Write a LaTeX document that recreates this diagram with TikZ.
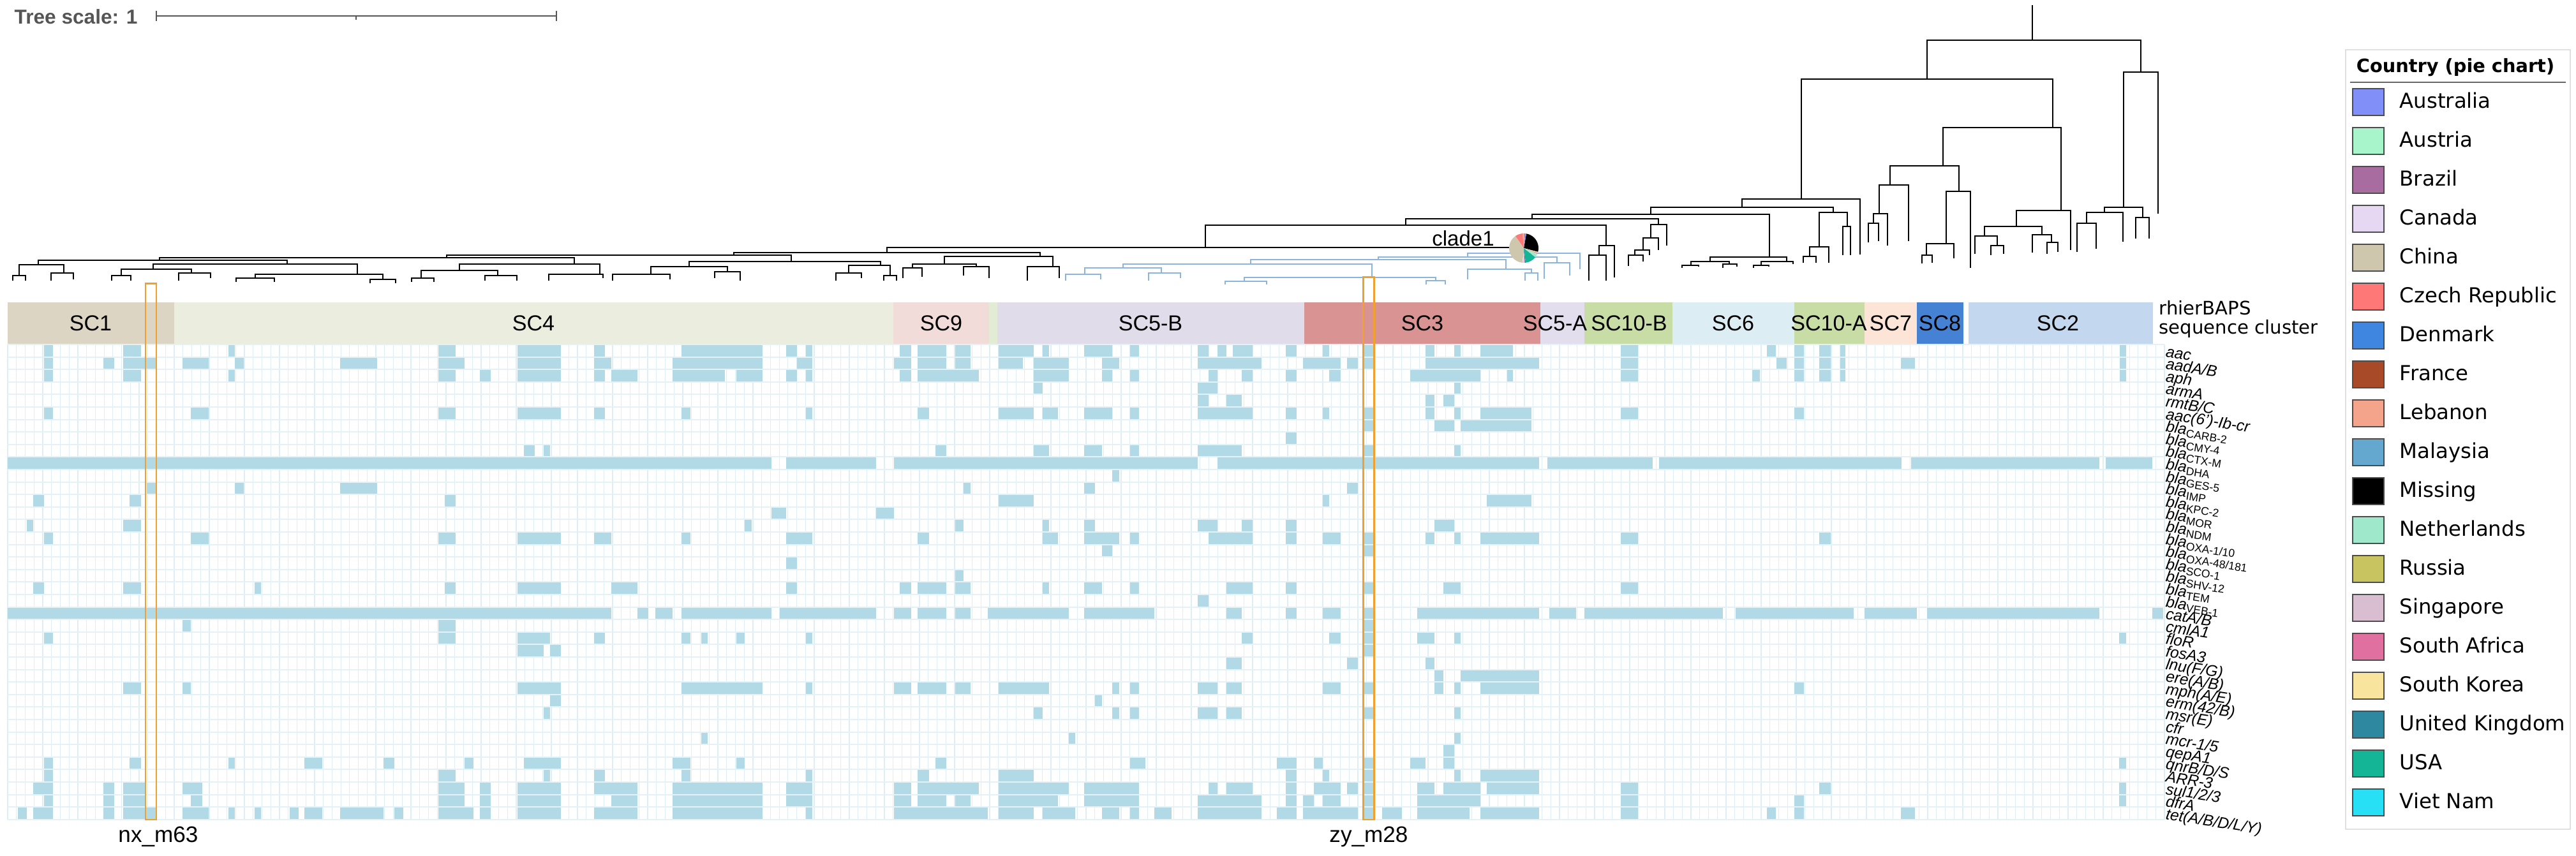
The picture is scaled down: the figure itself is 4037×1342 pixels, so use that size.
\documentclass[tikz,border=0pt]{standalone}
\usepackage{fontspec}
\setmainfont{Liberation Sans}
\newfontfamily\verd{DejaVu Sans}
\usepackage{tikz}

% heatmap and tree colours
\definecolor{hmfill}{RGB}{178,218,230}
\definecolor{hmgrid}{RGB}{222,238,244}
\definecolor{hmrow}{RGB}{228,242,247}
\definecolor{hilite}{RGB}{240,160,44}
\definecolor{cladeblue}{RGB}{140,180,224}
\definecolor{scalegray}{RGB}{85,85,85}
% cluster colours
\definecolor{sc1}{RGB}{220,213,195}
\definecolor{sc4}{RGB}{235,238,223}
\definecolor{sc9}{RGB}{242,220,218}
\definecolor{scx}{RGB}{226,236,212}
\definecolor{sc5b}{RGB}{224,220,234}
\definecolor{sc3}{RGB}{217,147,146}
\definecolor{sc5a}{RGB}{227,222,237}
\definecolor{sc10b}{RGB}{200,220,166}
\definecolor{sc6}{RGB}{220,238,243}
\definecolor{sc10a}{RGB}{200,220,166}
\definecolor{sc7}{RGB}{252,229,214}
\definecolor{sc8}{RGB}{70,130,212}
\definecolor{sc2}{RGB}{195,215,239}
% country colours
\definecolor{ctyAus}{RGB}{128,144,248}
\definecolor{ctyAut}{RGB}{168,245,204}
\definecolor{ctyBra}{RGB}{168,108,160}
\definecolor{ctyCan}{RGB}{230,216,242}
\definecolor{ctyChn}{RGB}{207,198,174}
\definecolor{ctyCze}{RGB}{255,120,120}
\definecolor{ctyDen}{RGB}{63,134,224}
\definecolor{ctyFra}{RGB}{168,74,40}
\definecolor{ctyLeb}{RGB}{245,164,140}
\definecolor{ctyMal}{RGB}{100,168,208}
\definecolor{ctyMis}{RGB}{0,0,0}
\definecolor{ctyNet}{RGB}{160,232,204}
\definecolor{ctyRus}{RGB}{200,196,96}
\definecolor{ctySin}{RGB}{216,190,208}
\definecolor{ctySaf}{RGB}{224,112,160}
\definecolor{ctySko}{RGB}{248,228,156}
\definecolor{ctyUk}{RGB}{46,136,160}
\definecolor{ctyUsa}{RGB}{20,180,150}
\definecolor{ctyVie}{RGB}{40,224,245}

\newcommand{\brk}[5]{\draw (#1,#2) -- (#1,#3) -- (#4,#3) -- (#4,#5);}
\newcommand{\bla}[1]{bla\textsubscript{\upshape #1}}

\begin{document}
\begin{tikzpicture}[x=0.1mm,y=-0.1mm,
  sclab/.style={inner sep=0pt,font=\fontsize{9.7}{11}\selectfont},
  genelab/.style={anchor=mid west,rotate=-9,inner sep=0pt,font=\fontsize{7}{8}\selectfont\itshape},
  legtext/.style={anchor=mid west,inner sep=0pt,font=\verd\fontsize{9.2}{11}\selectfont},
  swatch/.style={draw=black!70,line width=0.4pt},
  hibox/.style={draw=hilite,line width=0.85pt},
  scalebar/.style={draw=scalegray,line width=0.7pt}]
\useasboundingbox (0,0) rectangle (4037,1342);

% tree scale
\node [anchor=west,inner sep=0pt,text=scalegray,font=\bfseries\fontsize{9}{10}\selectfont] (tscale) at (22,26) {Tree scale: 1};
\draw [scalebar] (245,25) -- (872,25); \draw [scalebar] (245,17) -- (245,33); \draw [scalebar] (872,17) -- (872,33); \draw [scalebar] (558,25) -- (558,31);

% tree, black part
\begin{scope}[line width=0.55pt]
\draw (3185,8) -- (3185,63);
\brk{3020}{124}{63}{3355}{113}
\brk{3328}{325}{113}{3382}{335}
\brk{3298}{333}{325}{3358}{341}
\brk{3347}{374}{341}{3368}{374}
\brk{3270}{350}{333}{3327}{379}
\brk{3255}{395}{350}{3285}{390}
\brk{2823}{312}{124}{3217}{200}
\brk{3045}{260}{200}{3230}{330}
\brk{3160}{355}{330}{3245}{392}
\brk{3110}{370}{355}{3200}{368}
\brk{3095}{398}{370}{3130}{385}
\brk{3120}{400}{385}{3140}{398}
\brk{3185}{396}{368}{3215}{380}
\brk{3208}{398}{380}{3225}{395}
\brk{2962}{290}{260}{3070}{300}
\brk{2945}{335}{290}{2991}{378}
\brk{2936}{350}{335}{2958}{385}
\brk{2928}{380}{350}{2944}{378}
\brk{3050}{382}{300}{3088}{420}
\brk{3019}{400}{382}{3062}{405}
\brk{3012}{413}{400}{3028}{412}
\brk{2730}{325}{312}{2915}{399}
\brk{2587}{336}{325}{2873}{333}
\brk{2851}{387}{333}{2895}{355}
\brk{2888}{400}{355}{2900}{400}
\brk{2836}{402}{387}{2866}{412}
\brk{2826}{412}{402}{2846}{412}
\brk{2401}{343}{336}{2773}{403}
\brk{2680}{410}{403}{2800}{410}
\brk{2650}{416}{410}{2710}{414}
\brk{2636}{420}{416}{2662}{418}
\brk{2700}{420}{414}{2722}{418}
\brk{2760}{416}{410}{2810}{414}
\brk{2748}{420}{416}{2772}{418}
\brk{2203}{353}{343}{2599}{352}
\brk{2587}{373}{352}{2612}{385}
\brk{2575}{392}{373}{2599}{392}
\brk{2562}{400}{392}{2585}{400}
\brk{2552}{417}{400}{2575}{410}
\brk{1889}{388}{353}{2517}{385}
\brk{2506}{400}{385}{2530}{435}
\brk{2490}{440}{400}{2517}{440}
\brk{1390}{396}{388}{2388}{389}
\brk{1150}{400}{396}{1630}{402}
\brk{1480}{414}{402}{1650}{418}
\brk{1430}{420}{414}{1530}{418}
\brk{1415}{436}{420}{1445}{434}
\brk{1510}{432}{418}{1550}{436}
\brk{1610}{440}{418}{1660}{436}
\brk{700}{404}{400}{1240}{410}
\brk{1080}{418}{410}{1380}{416}
\brk{1020}{430}{418}{1140}{426}
\brk{960}{440}{430}{1050}{438}
\brk{1120}{436}{426}{1160}{440}
\brk{1330}{428}{416}{1395}{432}
\brk{1310}{440}{428}{1350}{436}
\brk{1385}{440}{432}{1405}{440}
\brk{250}{408}{404}{900}{414}
\brk{60}{415}{408}{450}{414}
\brk{30}{432}{415}{100}{428}
\brk{20}{440}{432}{40}{440}
\brk{80}{440}{428}{115}{438}
\brk{240}{422}{414}{560}{430}
\brk{190}{432}{422}{300}{428}
\brk{175}{440}{432}{205}{440}
\brk{280}{440}{428}{330}{436}
\brk{400}{436}{430}{600}{438}
\brk{370}{442}{436}{430}{442}
\brk{580}{444}{438}{620}{444}
\brk{720}{424}{414}{940}{430}
\brk{660}{436}{424}{780}{432}
\brk{645}{442}{436}{680}{442}
\brk{760}{440}{432}{810}{440}
\brk{860}{440}{430}{945}{436}
\end{scope}

% tree, clade1 part
\begin{scope}[line width=0.55pt,color=cladeblue]
\draw (2388,389) -- (2388,397);
\brk{2300}{403}{397}{2476}{422}
\brk{2160}{407}{403}{2440}{412}
\brk{2420}{437}{412}{2460}{432}
\brk{1960}{414}{407}{2360}{422}
\brk{2300}{438}{422}{2400}{428}
\brk{2390}{440}{428}{2410}{440}
\brk{1760}{420}{414}{2150}{435}
\brk{1950}{441}{435}{2250}{440}
\brk{1920}{446}{441}{1985}{446}
\brk{2235}{446}{440}{2265}{446}
\brk{1700}{430}{420}{1820}{428}
\brk{1670}{440}{430}{1725}{438}
\brk{1800}{440}{428}{1850}{436}
\end{scope}

% pie at clade1
\begin{scope}[shift={(2388,389)},y=0.1mm]
\foreach \a/\b/\c in {-15/80/ctyMis, 80/84/ctyAus, 84/88/ctyBra, 88/95/ctyLeb, 95/125/ctyCze, 125/265/ctyChn, 265/270/ctyCan, 270/274/ctySin, 274/278/ctyUk, 278/322/ctyUsa, 322/333/ctyNet, 333/338/ctyAut, 338/341/ctySaf, 341/345/ctySko}
  \fill[\c] (0,0) -- (\a:23) arc[start angle=\a,end angle=\b,radius=23] -- cycle;
\end{scope}
\node [inner sep=0pt,font=\fontsize{9.4}{11}\selectfont] (cladeone) at (2293,374) {clade1};

% rhierBAPS cluster bar
\fill[scx] (1550,474) rectangle (1563,540);
\foreach \a/\b/\c in {12/273/sc1, 273/1400/sc4, 1400/1550/sc9, 1563/2044/sc5b, 2044/2414/sc3, 2414/2483/sc5a, 2483/2621/sc10b, 2621/2812/sc6, 2812/2922/sc10a, 2922/3004/sc7, 3004/3077/sc8, 3085/3374/sc2}
  \fill[\c] (\a,474) rectangle (\b,540);
\foreach \x/\t in {142/SC1, 836/SC4, 1475/SC9, 1803/SC5-B, 2229/SC3, 2437/SC5-A, 2553/SC10-B, 2716/SC6, 2866/SC10-A, 2963/SC7, 3040/SC8, 3225/SC2}
  \node[sclab] (\t) at (\x,507) {\t};
\node [anchor=base west,inner sep=0pt,font=\verd\fontsize{8.3}{10}\selectfont] (baps) at (3383,494) {rhierBAPS};
\node [anchor=base west,inner sep=0pt,font=\verd\fontsize{8.3}{10}\selectfont] (seqcl) at (3383,524) {sequence cluster};

% heatmap
\foreach \j in {0,...,246} \draw[hmgrid,line width=0.35pt] ({12+13.74*\j},540) -- ({12+13.74*\j},1285);
\foreach \r/\segs in {
0/{69/83,193/221,358/368,687/714,811/879,931/948,1068/1195,1232/1249,1263/1273,1410/1428,1438/1483,1497/1521,1565/1620,1634/1644,1699/1743,1771/1785,1877/1894,1908/1922,1932/1963,2015/2032,2073/2083,2138/2152,2234/2248,2279/2289,2320/2371,2540/2567,2769/2783,2812/2827,2851/2869,2884/2892,3322/3332},
1/{69/83,162/179,193/245,286/327,368/382,533/591,687/728,811/879,931/958,1054/1195,1249/1273,1401/1428,1438/1483,1497/1521,1565/1603,1620/1675,1727/1754,1877/1977,2042/2101,2111/2128,2138/2152,2234/2412,2540/2567,2784/2800,2812/2827,2851/2869,2884/2892,2979/3001,3322/3332},
2/{69/83,193/221,358/368,687/714,752/769,811/879,931/948,958/999,1054/1136,1154/1195,1232/1249,1263/1273,1410/1428,1438/1534,1620/1675,1727/1743,1771/1785,1894/1908,1946/1963,2015/2032,2083/2101,2210/2320,2362/2371,2540/2567,2746/2758,2812/2827,2851/2869,2884/2892,3322/3332},
3/{1620/1634,1877/1908,2279/2289},
4/{1877/1894,1922/1946,2234/2248,2262/2279},
5/{69/83,299/327,687/714,811/879,931/948,1068/1082,1263/1273,1438/1456,1565/1620,1634/1658,1699/1743,1771/1785,1877/1963,2015/2032,2073/2083,2138/2155,2234/2248,2279/2289,2320/2400,2540/2567,2812/2827},
6/{2138/2155,2248/2279,2289/2400},
7/{2015/2032},
8/{821/838,852/862,1466/1483,1620/1644,1699/1727,1771/1785,1877/1946,2138/2155,2279/2289},
9/{12/1209,1232/1373,1401/1877,1908/2412,2425/2590,2600/2980,2995/3290,3300/3373},
10/{1743/1754},
11/{230/245,368/382,533/591,1510/1521,1699/1716,2111/2128},
12/{52/69,203/221,697/714,1565/1620,2073/2083,2330/2400},
13/{1209/1232,1373/1401},
14/{42/52,193/221,1167/1178,1497/1510,1634/1644,1699/1716,1877/1908,1946/1963,2015/2032,2248/2279},
15/{69/83,299/327,687/714,811/879,931/958,1068/1082,1232/1273,1438/1456,1634/1658,1699/1754,1771/1785,1894/1963,2015/2032,2073/2101,2138/2155,2234/2248,2279/2289,2320/2412,2540/2567,2851/2869},
16/{1727/1743,2138/2155},
17/{1232/1249},
18/{1497/1510},
19/{52/69,193/221,399/409,697/714,811/879,958/999,1232/1249,1410/1428,1438/1483,1497/1521,1634/1644,1699/1727,1771/1785,1922/1963,2015/2032,2138/2155,2262/2289,2540/2567},
20/{1877/1894},
21/{12/958,999/1016,1027/1054,1068/1209,1222/1373,1401/1428,1438/1483,1497/1521,1548/1675,1699/1809,1922/1946,2015/2032,2073/2101,2138/2155,2221/2412,2428/2470,2483/2700,2720/2905,2922/3004,3020/3290,3373/3390},
22/{286/299,687/714,2138/2155},
23/{69/83,687/714,811/862,931/948,1068/1082,1099/1109,1154/1167,1263/1273,1946/1963,2083/2101,2138/2155,2221/2248,2279/2289,3321/3332},
24/{811/852,862/879,2138/2155},
25/{1922/1946,2111/2128,2234/2248},
26/{2248/2262,2289/2412},
27/{193/221,286/299,811/879,1068/1195,1263/1273,1401/1428,1438/1483,1497/1521,1565/1644,1743/1754,1771/1785,1877/1908,1922/1946,2073/2101,2138/2155,2248/2262,2279/2289,2320/2412,2812/2827},
28/{862/879,1716/1727},
29/{852/862,1620/1634,1743/1754,1771/1785,1877/1908,1922/1946,2138/2155,2279/2289},
31/{1099/1109,1675/1685,2279/2289},
32/{2262/2279},
33/{69/83,203/221,358/368,477/505,601/618,728/742,821/879,1054/1082,1154/1167,1466/1483,1771/1795,2001/2032,2059/2073,2138/2155,2210/2234,2262/2279,3321/3332},
34/{69/83,687/714,852/862,931/948,1068/1082,1263/1273,1438/1456,1565/1620,2015/2032,2073/2083,2138/2155,2279/2289,2320/2412},
35/{52/83,162/179,193/228,286/317,687/728,752/769,811/879,931/999,1054/1195,1232/1273,1401/1428,1438/1534,1565/1675,1699/1785,1894/1908,1922/1963,2015/2032,2059/2101,2111/2128,2138/2155,2221/2248,2262/2320,2330/2412,2540/2567,2851/2869,3321/3332},
36/{69/83,162/179,193/228,299/317,687/728,752/769,811/879,958/999,1054/1195,1232/1273,1401/1428,1438/1483,1497/1521,1565/1658,1699/1785,1877/1977,2015/2032,2042/2059,2073/2101,2138/2155,2221/2320,2540/2567,2812/2827,3321/3332},
37/{28/42,52/83,162/179,193/245,286/327,358/368,399/409,454/468,477/505,533/601,618/632,687/742,752/769,811/879,931/999,1054/1195,1263/1273,1401/1548,1565/1620,1634/1685,1727/1754,1771/1785,1809/1836,1877/1977,2001/2032,2042/2128,2138/2155,2166/2197,2221/2303,2320/2412,2540/2567,2769/2783,2812/2827,2979/3001}}
  {\foreach \a/\b in \segs {\fill[hmfill] (\a,{540+19.6*\r}) rectangle (\b,{559.6+19.6*\r});}}
\foreach \k in {0,...,38} \draw[hmrow,line width=0.6pt] (12,{540+19.6*\k}) -- (3392,{540+19.6*\k});

% highlighted isolates
\draw [hibox] (228,445) rectangle (245,1285);
\draw [hibox] (2136,435) rectangle (2153,1285);
\node [font=\fontsize{10}{12}\selectfont] (nxlab) at (248,1312) {nx\_m63};
\node [font=\fontsize{10}{12}\selectfont] (zylab) at (2145,1312) {zy\_m28};

% gene names
\foreach \g [count=\i from 0] in {aac, aadA/B, aph, armA, rmtB/C, aac(6')-Ib-cr, \bla{CARB-2}, \bla{CMY-4}, \bla{CTX-M}, \bla{DHA}, \bla{GES-5}, \bla{IMP}, \bla{KPC-2}, \bla{MOR}, \bla{NDM}, \bla{OXA-1/10}, \bla{OXA-48/181}, \bla{SCO-1}, \bla{SHV-12}, \bla{TEM}, \bla{VEB-1}, catA/B, cmlA1, floR, fosA3, lnu(F/G), ere(A/B), mph(A/E), erm(42/B), msr(E), cfr, mcr-1/5, qepA1, qnrB/D/S, ARR-3, sul1/2/3, dfrA, tet(A/B/D/L/Y)}
  \node[genelab] (gene\i) at (3394,{549.8+19.6*\i}) {\g};

% legend
\draw [draw=black!12,fill=white] (3676,78) rectangle (4028,1300);
\node [inner sep=0pt,font=\verd\bfseries\fontsize{8.2}{10}\selectfont] (legtitle) at (3848,106) {Country (pie chart)};
\draw [black!60,line width=0.5pt] (3683,129) -- (4021,129);
\foreach \c/\t [count=\i from 0] in {ctyAus/Australia, ctyAut/Austria, ctyBra/Brazil, ctyCan/Canada, ctyChn/China, ctyCze/Czech Republic, ctyDen/Denmark, ctyFra/France, ctyLeb/Lebanon, ctyMal/Malaysia, ctyMis/Missing, ctyNet/Netherlands, ctyRus/Russia, ctySin/Singapore, ctySaf/South Africa, ctySko/South Korea, ctyUk/United Kingdom, ctyUsa/USA, ctyVie/Viet Nam}
  {\draw[swatch,fill=\c] (3687,{139+61*\i}) rectangle (3736,{181+61*\i}); \node[legtext] (leg\i) at (3760,{160+61*\i}) {\t};}
\end{tikzpicture}
\end{document}
